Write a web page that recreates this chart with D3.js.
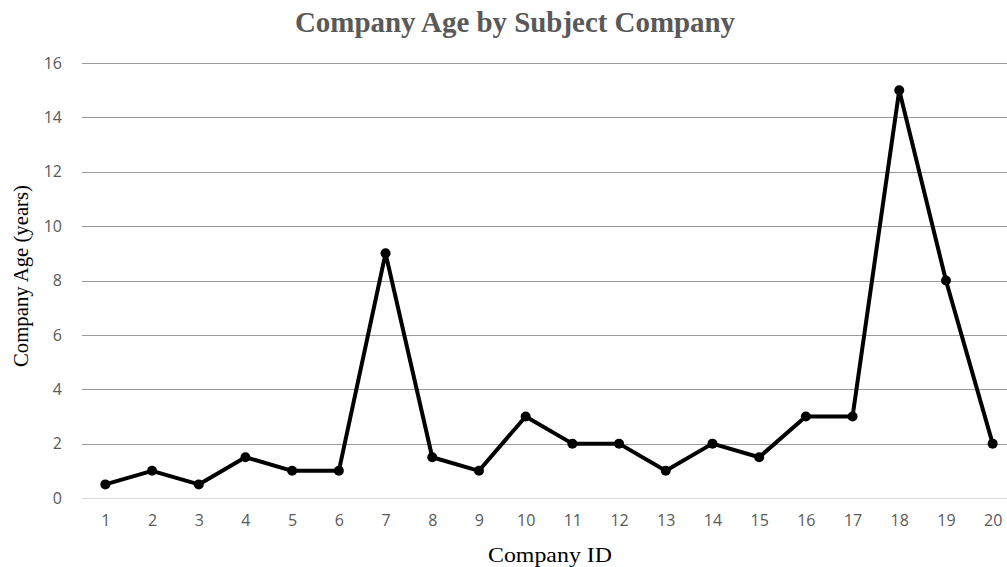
<!DOCTYPE html>
<html>
<head>
<meta charset="utf-8">
<script src="https://cdn.jsdelivr.net/npm/d3@7"></script>
<style>
  html, body { margin: 0; padding: 0; background: #fff; }
  svg { display: block; }
</style>
</head>
<body>
<svg id="chart" width="1007" height="567"></svg>
<script>
// Company IDs and their ages in years
const companyIds = [1, 2, 3, 4, 5, 6, 7, 8, 9, 10, 11, 12, 13, 14, 15, 16, 17, 18, 19, 20];
const companyAges = [0.5, 1, 0.5, 1.5, 1, 1, 9, 1.5, 1, 3, 2, 2, 1, 2, 1.5, 3, 3, 15, 8, 2];
const yTicks = [0, 2, 4, 6, 8, 10, 12, 14, 16];

const svg = d3.select("#chart");
const W = 1007, H = 567;
const plot = { left: 82, right: 1016, top: 63, bottom: 498 };
const tickFont = "'Open Sans', 'Liberation Sans', sans-serif";
const titleFont = "'Liberation Serif', 'Times New Roman', serif";

const x = d3.scalePoint()
  .domain(companyIds)
  .range([plot.left, plot.right])
  .padding(0.5);

const y = d3.scaleLinear()
  .domain([0, 16])
  .range([plot.bottom, plot.top]);

// Horizontal gridlines
svg.append("g")
  .selectAll("line")
  .data(yTicks)
  .join("line")
  .attr("x1", plot.left)
  .attr("x2", W)
  .attr("y1", d => Math.round(y(d)) + 0.5)
  .attr("y2", d => Math.round(y(d)) + 0.5)
  .attr("stroke", d => d === 0 ? "#d9d9d9" : "#9a9a9a")
  .attr("stroke-width", 1);

// Y axis tick labels
const yAxis = svg.append("g")
  .attr("transform", `translate(${plot.left - 20},0)`)
  .call(d3.axisLeft(y).tickValues(yTicks).tickSize(0).tickPadding(0));
yAxis.select(".domain").remove();
yAxis.selectAll("text")
  .attr("fill", "#595959")
  .attr("font-family", tickFont)
  .attr("font-size", 16);

// X axis tick labels
const xAxis = svg.append("g")
  .attr("transform", `translate(0,${plot.bottom + 17})`)
  .call(d3.axisBottom(x).tickSize(0).tickPadding(0));
xAxis.select(".domain").remove();
xAxis.selectAll("text")
  .attr("fill", "#595959")
  .attr("font-family", tickFont)
  .attr("font-size", 16);

// Data line
const points = companyIds.map((id, i) => ({ id, age: companyAges[i] }));
svg.append("path")
  .datum(points)
  .attr("fill", "none")
  .attr("stroke", "#000")
  .attr("stroke-width", 4)
  .attr("stroke-linejoin", "round")
  .attr("d", d3.line().x(d => x(d.id)).y(d => y(d.age)));

// Markers
svg.append("g")
  .selectAll("circle")
  .data(points)
  .join("circle")
  .attr("cx", d => x(d.id))
  .attr("cy", d => y(d.age))
  .attr("r", 5)
  .attr("fill", "#000");

// Title
svg.append("text")
  .attr("x", 515)
  .attr("y", 32)
  .attr("text-anchor", "middle")
  .attr("font-family", titleFont)
  .attr("font-weight", "bold")
  .attr("font-size", 29)
  .attr("textLength", 440)
  .attr("lengthAdjust", "spacingAndGlyphs")
  .attr("fill", "#595959")
  .text("Company Age by Subject Company");

// Axis titles
svg.append("text")
  .attr("x", 550)
  .attr("y", 562)
  .attr("text-anchor", "middle")
  .attr("font-family", titleFont)
  .attr("font-size", 22)
  .attr("textLength", 124)
  .attr("lengthAdjust", "spacingAndGlyphs")
  .attr("fill", "#000")
  .text("Company ID");

svg.append("text")
  .attr("transform", "translate(28,276) rotate(-90)")
  .attr("text-anchor", "middle")
  .attr("font-family", titleFont)
  .attr("font-size", 21)
  .attr("textLength", 182)
  .attr("lengthAdjust", "spacingAndGlyphs")
  .attr("fill", "#000")
  .text("Company Age (years)");
</script>
</body>
</html>
